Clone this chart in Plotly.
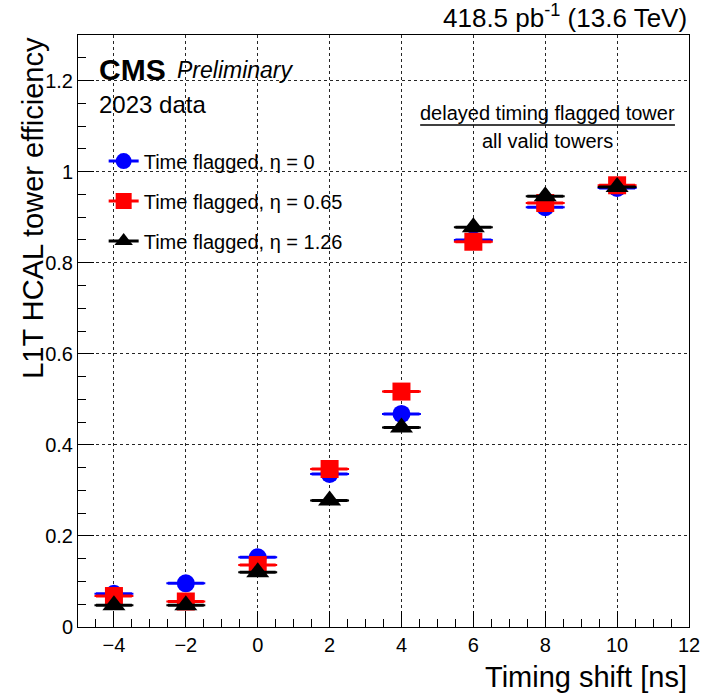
import plotly.graph_objects as go

# ---- data ----
timing_shift = [-4, -2, 0, 2, 4, 6, 8, 10]
x_halfwidth = [0.5] * 8
eff_eta0 = [0.073, 0.096, 0.153, 0.336, 0.468, 0.850, 0.922, 0.964]
eff_eta065 = [0.068, 0.056, 0.136, 0.347, 0.517, 0.846, 0.931, 0.970]
eff_eta126 = [0.048, 0.048, 0.120, 0.278, 0.438, 0.878, 0.946, 0.966]

series_names = ["Time flagged, η = 0", "Time flagged, η = 0.65", "Time flagged, η = 1.26"]
series_colors = ["#0000FF", "#FF0000", "#000000"]
series_symbols = ["circle", "square", "triangle-up"]
series_sizes = [18, 18, 20]

x_tickvals = [-4, -2, 0, 2, 4, 6, 8, 10, 12]
x_ticktext = ["−4", "−2", "0", "2", "4", "6", "8", "10", "12"]
y_tickvals = [0, 0.2, 0.4, 0.6, 0.8, 1.0, 1.2]
y_ticktext = ["0", "0.2", "0.4", "0.6", "0.8", "1", "1.2"]

FONT = "Liberation Sans, Arial, Helvetica, sans-serif"

fig = go.Figure()
all_vals = [eff_eta0, eff_eta065, eff_eta126]
for i, vals in enumerate(all_vals):
    fig.add_trace(go.Scatter(
        x=timing_shift, y=vals, mode="markers",
        marker=dict(symbol=series_symbols[i], size=series_sizes[i], color=series_colors[i],
                    line=dict(width=0)),
        error_x=dict(type="data", array=x_halfwidth, color=series_colors[i], thickness=3, width=1),
        showlegend=False, legendgroup=f"g{i}", name=series_names[i],
    ))
for i in range(3):
    fig.add_trace(go.Scatter(
        x=[None], y=[None], mode="lines+markers",
        marker=dict(symbol=series_symbols[i], size=series_sizes[i], color=series_colors[i]),
        line=dict(color=series_colors[i], width=3),
        name=series_names[i], legendgroup=f"g{i}", showlegend=True,
    ))

axis_common = dict(
    showline=True, linecolor="black", linewidth=1, mirror=True,
    ticks="inside", ticklen=16, tickwidth=1, tickcolor="black",
    showgrid=True, gridcolor="rgba(0,0,0,0.85)", griddash="dot", gridwidth=1,
    zeroline=False, automargin=False,
    tickfont=dict(size=20, color="black", family=FONT),
)
fig.update_xaxes(range=[-5, 12], tickvals=x_tickvals, ticktext=x_ticktext,
                 minor=dict(dtick=0.5, tick0=0, ticks="inside", ticklen=8, tickcolor="black", showgrid=False),
                 **axis_common)
fig.update_yaxes(range=[0, 1.3], tickvals=y_tickvals, ticktext=y_ticktext,
                 minor=dict(dtick=0.05, tick0=0, ticks="inside", ticklen=8, tickcolor="black", showgrid=False),
                 **axis_common)

annotations = [
    dict(text="Timing shift [ns]", xref="paper", yref="paper", x=1.0, y=-0.085,
         xanchor="right", yanchor="middle", showarrow=False, font=dict(size=29)),
    dict(text="L1T HCAL tower efficiency", xref="paper", yref="paper", x=-0.074, y=1.0,
         xanchor="center", yanchor="top", textangle=-90, showarrow=False, font=dict(size=29)),
    dict(text="418.5 pb<sup>-1</sup> (13.6 TeV)", xref="paper", yref="paper", x=1.0, y=1.0,
         xanchor="right", yanchor="bottom", showarrow=False, font=dict(size=26)),
    dict(text="<b>CMS</b>", xref="paper", yref="paper", x=0.031, y=0.941,
         xanchor="left", yanchor="middle", showarrow=False, font=dict(size=30)),
    dict(text="<i>Preliminary</i>", xref="paper", yref="paper", x=0.159, y=0.941,
         xanchor="left", yanchor="middle", showarrow=False, font=dict(size=23)),
    dict(text="2023 data", xref="paper", yref="paper", x=0.031, y=0.883,
         xanchor="left", yanchor="middle", showarrow=False, font=dict(size=24)),
    dict(text="delayed timing flagged tower", xref="paper", yref="paper", x=0.768, y=0.868,
         xanchor="center", yanchor="middle", showarrow=False, font=dict(size=20)),
    dict(text="all valid towers", xref="paper", yref="paper", x=0.768, y=0.821,
         xanchor="center", yanchor="middle", showarrow=False, font=dict(size=20)),
]

fig.update_layout(
    width=702, height=696,
    margin=dict(l=78, r=13, t=35, b=69),
    paper_bgcolor="white", plot_bgcolor="white",
    font=dict(family=FONT, color="black"),
    annotations=annotations,
    shapes=[dict(type="line", xref="paper", yref="paper", x0=0.560, x1=0.977, y0=0.848, y1=0.848,
                 line=dict(color="black", width=1.5))],
    legend=dict(x=0.042, y=0.82, xanchor="left", yanchor="top", bgcolor="rgba(0,0,0,0)",
                font=dict(size=20), tracegroupgap=11, itemwidth=30),
)

fig.write_html("out.html")
